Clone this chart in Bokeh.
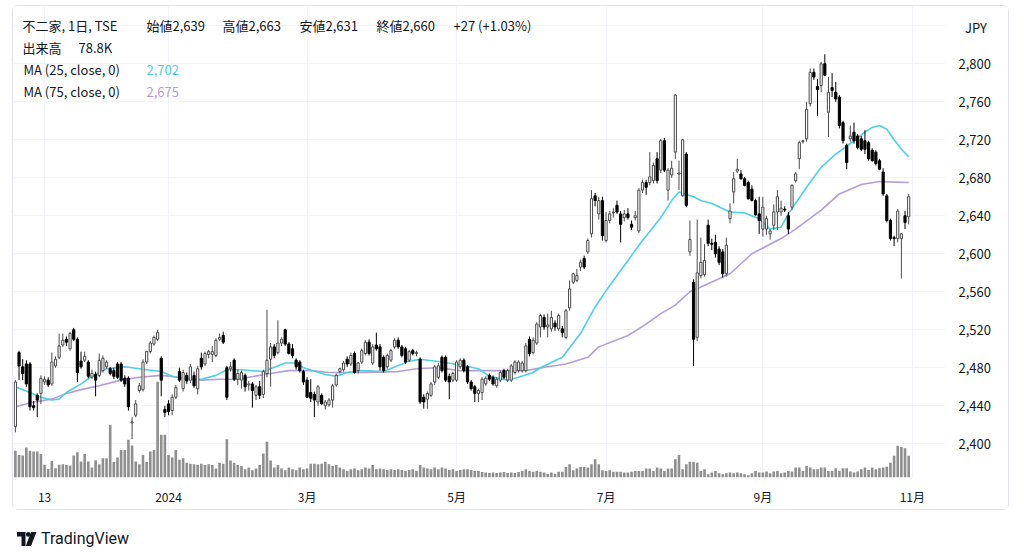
import numpy as np
from bokeh.plotting import figure
from bokeh.layouts import column, row
from bokeh.models import Range1d, FixedTicker, Label, ColumnDataSource, Spacer, Div
from bokeh.embed import file_html
from bokeh.resources import INLINE

# ---------------- data ----------------
opens = [2418, 2496, 2481, 2484, 2484, 2440, 2451, 2453, 2465, 2467,
         2463, 2482, 2491, 2504, 2510, 2500, 2520, 2510, 2487, 2488,
         2486, 2470, 2473, 2472, 2477, 2481, 2479, 2477, 2484, 2484,
         2469, 2469, 2422, 2430, 2456, 2457, 2486, 2497, 2505, 2510,
         2490, 2436, 2442, 2435, 2449, 2476, 2458, 2472, 2467, 2472,
         2458, 2490, 2484, 2494, 2494, 2493, 2510, 2514, 2480, 2479,
         2488, 2468, 2467, 2472, 2462, 2463, 2451, 2460, 2452, 2474,
         2489, 2502, 2496, 2506, 2520, 2505, 2500, 2488, 2486, 2476,
         2467, 2454, 2452, 2444, 2451, 2440, 2441, 2446, 2462, 2476,
         2478, 2489, 2484, 2495, 2477, 2486, 2495, 2507, 2485, 2504,
         2502, 2491, 2481, 2488, 2502, 2509, 2502, 2500, 2488, 2498,
         2495, 2489, 2449, 2447, 2451, 2465, 2470, 2491, 2491, 2471,
         2467, 2467, 2481, 2488, 2481, 2465, 2460, 2453, 2454, 2463,
         2472, 2470, 2461, 2467, 2477, 2467, 2467, 2475, 2477, 2477,
         2477, 2510, 2496, 2506, 2523, 2533, 2523, 2521, 2527, 2521,
         2521, 2512, 2543, 2570, 2572, 2586, 2595, 2602, 2621, 2661,
         2642, 2656, 2614, 2635, 2643, 2651, 2642, 2638, 2642, 2631,
         2638, 2624, 2667, 2675, 2675, 2677, 2700, 2688, 2719, 2667,
         2683, 2707, 2684, 2661, 2705, 2602, 2570, 2512, 2577, 2578,
         2630, 2611, 2612, 2605, 2602, 2579, 2637, 2665, 2687, 2684,
         2679, 2675, 2668, 2656, 2642, 2626, 2626, 2621, 2630, 2644,
         2644, 2647, 2640, 2649, 2677, 2700, 2718, 2721, 2758, 2791,
         2776, 2777, 2800, 2749, 2775, 2770, 2765, 2738, 2714, 2721,
         2728, 2724, 2721, 2719, 2717, 2709, 2707, 2698, 2686, 2661,
         2635, 2617, 2616, 2616, 2640, 2639]
highs = [2467, 2498, 2489, 2488, 2486, 2445, 2453, 2472, 2471, 2470,
         2496, 2492, 2516, 2516, 2513, 2518, 2522, 2512, 2497, 2497,
         2488, 2478, 2476, 2495, 2493, 2488, 2481, 2480, 2486, 2486,
         2472, 2471, 2428, 2446, 2464, 2489, 2498, 2508, 2514, 2520,
         2492, 2440, 2446, 2452, 2462, 2480, 2478, 2475, 2484, 2476,
         2482, 2496, 2497, 2499, 2503, 2511, 2516, 2518, 2482, 2486,
         2490, 2478, 2477, 2474, 2466, 2465, 2462, 2466, 2478, 2541,
         2506, 2505, 2530, 2512, 2521, 2507, 2505, 2490, 2488, 2478,
         2470, 2468, 2455, 2462, 2453, 2446, 2448, 2463, 2474, 2480,
         2487, 2492, 2496, 2497, 2486, 2500, 2509, 2510, 2505, 2517,
         2505, 2493, 2495, 2500, 2511, 2512, 2504, 2502, 2499, 2500,
         2498, 2491, 2452, 2455, 2465, 2483, 2485, 2493, 2493, 2474,
         2476, 2488, 2490, 2490, 2483, 2467, 2462, 2458, 2470, 2471,
         2474, 2472, 2470, 2477, 2479, 2479, 2484, 2488, 2488, 2487,
         2506, 2513, 2512, 2528, 2537, 2536, 2537, 2540, 2530, 2537,
         2524, 2542, 2572, 2580, 2584, 2594, 2598, 2616, 2667, 2664,
         2660, 2660, 2644, 2645, 2648, 2656, 2645, 2646, 2648, 2635,
         2645, 2669, 2678, 2678, 2707, 2696, 2707, 2721, 2722, 2690,
         2698, 2768, 2698, 2721, 2707, 2635, 2573, 2636, 2617, 2610,
         2636, 2616, 2620, 2608, 2605, 2617, 2653, 2686, 2700, 2688,
         2681, 2677, 2672, 2658, 2660, 2660, 2640, 2626, 2652, 2667,
         2656, 2650, 2644, 2673, 2686, 2719, 2720, 2760, 2795, 2795,
         2784, 2802, 2810, 2786, 2790, 2781, 2767, 2740, 2716, 2735,
         2738, 2726, 2724, 2730, 2719, 2711, 2709, 2700, 2690, 2663,
         2637, 2619, 2647, 2622, 2645, 2663]
lows = [2412, 2467, 2467, 2460, 2435, 2435, 2428, 2442, 2462, 2460,
        2461, 2480, 2489, 2502, 2503, 2498, 2508, 2465, 2479, 2486,
        2469, 2468, 2450, 2470, 2475, 2479, 2472, 2468, 2468, 2465,
        2460, 2435, 2405, 2428, 2454, 2455, 2484, 2495, 2503, 2508,
        2450, 2428, 2430, 2430, 2447, 2465, 2455, 2463, 2464, 2459,
        2452, 2478, 2482, 2490, 2486, 2491, 2508, 2505, 2446, 2476,
        2466, 2462, 2458, 2455, 2456, 2438, 2446, 2447, 2448, 2470,
        2460, 2490, 2494, 2503, 2503, 2494, 2490, 2478, 2475, 2462,
        2448, 2444, 2428, 2440, 2441, 2436, 2439, 2438, 2460, 2474,
        2476, 2481, 2482, 2474, 2474, 2484, 2493, 2493, 2483, 2498,
        2477, 2475, 2479, 2486, 2500, 2500, 2491, 2484, 2486, 2493,
        2492, 2442, 2437, 2437, 2449, 2462, 2468, 2475, 2465, 2447,
        2465, 2465, 2479, 2475, 2463, 2456, 2444, 2444, 2446, 2461,
        2466, 2461, 2459, 2465, 2468, 2465, 2465, 2473, 2475, 2475,
        2475, 2492, 2494, 2504, 2512, 2520, 2512, 2518, 2519, 2519,
        2512, 2510, 2540, 2568, 2570, 2582, 2584, 2600, 2617, 2650,
        2636, 2614, 2612, 2632, 2638, 2642, 2612, 2634, 2636, 2625,
        2635, 2622, 2664, 2662, 2672, 2674, 2674, 2685, 2686, 2656,
        2680, 2700, 2667, 2660, 2649, 2598, 2482, 2508, 2574, 2576,
        2608, 2604, 2596, 2588, 2575, 2576, 2632, 2653, 2685, 2678,
        2671, 2657, 2655, 2640, 2621, 2618, 2620, 2615, 2625, 2625,
        2640, 2644, 2621, 2646, 2675, 2689, 2716, 2718, 2755, 2783,
        2745, 2770, 2787, 2723, 2765, 2760, 2732, 2716, 2689, 2718,
        2716, 2710, 2708, 2705, 2698, 2697, 2693, 2688, 2661, 2633,
        2614, 2608, 2612, 2574, 2626, 2631]
closes = [2465, 2482, 2474, 2463, 2439, 2438, 2446, 2469, 2468, 2462,
          2486, 2489, 2503, 2509, 2507, 2516, 2510, 2475, 2481, 2492,
          2471, 2474, 2467, 2488, 2490, 2486, 2474, 2471, 2470, 2467,
          2463, 2439, 2423, 2442, 2461, 2486, 2497, 2506, 2512, 2517,
          2467, 2433, 2434, 2449, 2459, 2467, 2475, 2466, 2481, 2461,
          2479, 2481, 2495, 2497, 2497, 2509, 2512, 2507, 2449, 2481,
          2468, 2474, 2475, 2460, 2463, 2456, 2460, 2451, 2476, 2488,
          2502, 2493, 2506, 2510, 2505, 2495, 2493, 2481, 2477, 2465,
          2449, 2448, 2446, 2460, 2442, 2444, 2446, 2461, 2472, 2479,
          2485, 2484, 2493, 2475, 2485, 2498, 2507, 2495, 2502, 2500,
          2481, 2477, 2493, 2498, 2509, 2502, 2493, 2486, 2497, 2495,
          2496, 2444, 2444, 2453, 2463, 2481, 2482, 2477, 2467, 2465,
          2474, 2486, 2488, 2477, 2465, 2458, 2453, 2456, 2468, 2469,
          2468, 2463, 2468, 2475, 2470, 2477, 2482, 2486, 2486, 2485,
          2503, 2495, 2509, 2526, 2535, 2523, 2525, 2533, 2523, 2535,
          2517, 2540, 2563, 2579, 2577, 2591, 2586, 2614, 2658, 2656,
          2656, 2619, 2635, 2642, 2644, 2644, 2631, 2642, 2638, 2628,
          2640, 2667, 2675, 2670, 2681, 2693, 2677, 2719, 2688, 2688,
          2690, 2767, 2685, 2720, 2651, 2615, 2510, 2580, 2591, 2593,
          2611, 2610, 2600, 2591, 2579, 2609, 2645, 2679, 2689, 2679,
          2672, 2658, 2656, 2641, 2635, 2649, 2637, 2624, 2644, 2660,
          2648, 2646, 2626, 2672, 2684, 2717, 2719, 2752, 2791, 2786,
          2773, 2800, 2788, 2770, 2772, 2763, 2735, 2719, 2696, 2724,
          2719, 2712, 2710, 2710, 2700, 2698, 2695, 2689, 2663, 2635,
          2616, 2616, 2645, 2621, 2633, 2660]
volumes_k = [97, 82, 80, 109, 97, 94, 94, 85, 46, 31,
             60, 34, 46, 48, 46, 44, 80, 92, 58, 85,
             58, 36, 63, 48, 70, 70, 191, 56, 73, 100,
             100, 137, 116, 58, 48, 82, 56, 94, 100, 348,
             155, 155, 82, 73, 100, 64, 70, 54, 50, 48,
             45, 50, 45, 48, 45, 33, 54, 50, 139, 62,
             54, 45, 42, 30, 36, 26, 33, 45, 87, 130,
             62, 36, 45, 33, 26, 36, 30, 26, 36, 30,
             33, 50, 50, 48, 50, 57, 48, 42, 45, 36,
             30, 24, 30, 33, 26, 30, 36, 33, 45, 30,
             33, 30, 27, 30, 27, 30, 27, 24, 27, 30,
             24, 45, 36, 33, 30, 36, 30, 36, 33, 27,
             30, 24, 27, 30, 30, 27, 24, 24, 20, 18,
             16, 18, 16, 18, 20, 16, 18, 16, 20, 24,
             30, 24, 21, 24, 21, 18, 14, 18, 14, 21,
             21, 38, 48, 26, 33, 38, 38, 36, 48, 66,
             48, 26, 24, 26, 21, 21, 21, 18, 18, 21,
             24, 24, 24, 33, 33, 24, 36, 33, 24, 33,
             33, 66, 82, 30, 48, 57, 57, 54, 24, 30,
             12, 18, 24, 15, 12, 15, 18, 15, 18, 15,
             12, 8, 15, 24, 18, 18, 22, 15, 22, 24,
             15, 18, 24, 22, 36, 36, 24, 42, 36, 30,
             30, 36, 36, 24, 24, 34, 24, 34, 34, 22,
             18, 22, 30, 36, 27, 36, 30, 34, 36, 39,
             54, 79, 115, 111, 106, 79]

ma25_idx = [0, 4, 7, 10, 12, 14, 18, 21, 25, 30, 36, 40, 43, 47, 51, 55, 58, 62, 68, 74,
            77, 79, 85, 88, 91, 95, 101, 108, 111, 117, 122, 127, 130, 135, 138, 142, 144,
            150, 155, 159, 162, 168, 172, 177, 180, 182, 186, 188, 191, 196, 200, 204, 207,
            210, 212, 217, 221, 225, 230, 233, 235, 237, 239, 241, 243, 245]
ma25_val = [2460, 2454, 2449, 2446, 2447, 2454, 2463, 2471, 2479, 2481, 2478, 2476, 2471, 2468,
            2468, 2472, 2478, 2478, 2476, 2485, 2485, 2480, 2473, 2471, 2475, 2477, 2476, 2487,
            2489, 2486, 2483, 2479, 2471, 2467, 2470, 2475, 2480, 2491, 2516, 2544, 2561, 2593,
            2614, 2638, 2656, 2665, 2660, 2656, 2653, 2644, 2643, 2637, 2626, 2628, 2642, 2670,
            2691, 2705, 2719, 2728, 2733, 2735, 2731, 2720, 2710, 2702]
ma75_idx = [0, 5, 10, 14, 18, 23, 29, 34, 40, 45, 51, 56, 62, 64, 70, 75, 81, 86, 96, 105,
            110, 116, 122, 131, 140, 146, 151, 157, 160, 168, 173, 177, 181, 185, 188, 196,
            202, 210, 214, 221, 226, 232, 237, 245]
ma75_val = [2439, 2444, 2447, 2453, 2457, 2461, 2467, 2470, 2472, 2470, 2467, 2468, 2468, 2470,
            2474, 2477, 2477, 2475, 2475, 2476, 2479, 2480, 2477, 2477, 2477, 2481, 2484, 2491,
            2502, 2514, 2526, 2537, 2546, 2560, 2565, 2579, 2600, 2616, 2626, 2646, 2663, 2673,
            2676, 2675]

time_tick_idx = [8, 42, 80, 121, 162, 205, 246]
time_tick_labels = ["13", "2024", "3月", "5月", "7月", "9月", "11月"]
price_ticks = [2400, 2440, 2480, 2520, 2560, 2600, 2640, 2680, 2720, 2760, 2800]
grid_price_ticks = [2400, 2440, 2480, 2520, 2560, 2600, 2640, 2680, 2720, 2760, 2800, 2840]
currency_level = 2838
currency = "JPY"

header_parts = ["不二家, 1日, TSE", "始値2,639", "高値2,663", "安値2,631", "終値2,660", "+27 (+1.03%)"]
volume_text = ["出来高", "78.8K"]
ma_labels = ["MA (25, close, 0)", "MA (75, close, 0)"]
ma_last = ["2,702", "2,675"]

# ---------------- layout constants (page px) ----------------
W, H = 997, 505          # figure canvas, sits at page (13, 6) inside a 1px border
X0, X1 = -0.52, 255.1
Y0, Y1 = 2364.5, 2860.3
PXX = 932 / (X1 - X0)
PXY = 471 / (Y1 - Y0)
VOL_MAX = 1710

TXT = "#131722"
CYAN = "#4dd0e1"
PURPLE = "#b39ddb"
GRID = "#f0f3fa"
FONT = "Noto Sans CJK JP"


def X(px):
    return X0 + (px - 13) / PXX


def Y(py):
    return Y1 - (py - 6) / PXY


p = figure(width=W, height=H, x_range=Range1d(X0, X1), y_range=Range1d(Y0, Y1),
           y_axis_location="right", toolbar_location=None, output_backend="svg",
           min_border_left=0, min_border_right=65, min_border_top=0, min_border_bottom=34,
           outline_line_color=None, background_fill_color="white", border_fill_color="white")
p.styles = {"border": "1px solid #e0e3eb", "border-radius": "6px"}
p.extra_y_ranges = {"vol": Range1d(0, VOL_MAX)}

# axes
xa = p.xaxis[0]
xa.ticker = FixedTicker(ticks=time_tick_idx)
xa.major_label_overrides = dict(zip(time_tick_idx, time_tick_labels))
xa.axis_line_color = None
xa.major_tick_line_color = None
xa.minor_tick_line_color = None
xa.major_tick_out = 0
xa.major_tick_in = 0
xa.major_label_standoff = 10
xa.major_label_text_font = FONT
xa.major_label_text_font_size = "12px"
xa.major_label_text_color = TXT

ya = p.yaxis[0]
ya.ticker = FixedTicker(ticks=price_ticks + [currency_level])
overrides = {t: f"{t:,}" for t in price_ticks}
overrides[currency_level] = "\u2002" + currency
ya.major_label_overrides = overrides
ya.axis_line_color = None
ya.major_tick_line_color = None
ya.minor_tick_line_color = None
ya.major_tick_out = 0
ya.major_tick_in = 0
ya.major_label_standoff = 13
ya.major_label_text_font = FONT
ya.major_label_text_font_size = "13px"
ya.major_label_text_color = TXT

p.xgrid.ticker = FixedTicker(ticks=time_tick_idx)
p.ygrid.ticker = FixedTicker(ticks=grid_price_ticks)
p.xgrid.grid_line_color = GRID
p.ygrid.grid_line_color = GRID

# data sources
n = len(opens)
idx = np.arange(n)
o = np.array(opens, dtype=float)
hh = np.array(highs, dtype=float)
ll = np.array(lows, dtype=float)
c = np.array(closes, dtype=float)
up = c >= o
src = ColumnDataSource(dict(
    x=idx, o=o, h=hh, l=ll, c=c,
    top=np.maximum(o, c), bot=np.minimum(o, c),
    fill=np.where(up, "#ffffff", "#000000"),
    line=np.where(up, "#4a4a4a", "#000000"),
    vol=np.array(volumes_k, dtype=float),
))

# volume
p.vbar(x="x", width=0.72, top="vol", bottom=0, source=src, y_range_name="vol",
       fill_color="#8f8f8f", line_color=None)

# moving averages
p.line(ma75_idx, ma75_val, line_color=PURPLE, line_width=1.6)
p.line(ma25_idx, ma25_val, line_color=CYAN, line_width=1.6)

# candles
p.segment(x0="x", y0="l", x1="x", y1="h", source=src, line_color="line", line_width=1)
p.vbar(x="x", width=0.6, top="top", bottom="bot", source=src,
       fill_color="fill", line_color="line", line_width=1)

# header legend
hx = [22, 146, 222, 299, 376, 453]
for t, px in zip(header_parts, hx):
    p.add_layout(Label(x=X(px), y=Y(25), text=t, text_font=FONT, text_font_size="13px",
                       text_color=TXT, text_baseline="middle", text_align="left"))
p.add_layout(Label(x=X(22), y=Y(46.5), text=volume_text[0], text_font=FONT, text_font_size="13px",
                   text_color=TXT, text_baseline="middle"))
p.add_layout(Label(x=X(78), y=Y(46.5), text=volume_text[1], text_font=FONT, text_font_size="13px",
                   text_color=TXT, text_baseline="middle"))
for k, (lab, val, col) in enumerate(zip(ma_labels, ma_last, [CYAN, PURPLE])):
    yy = 69 + 22 * k
    p.add_layout(Label(x=X(23), y=Y(yy), text=lab, text_font=FONT, text_font_size="13px",
                       text_color=TXT, text_baseline="middle"))
    p.add_layout(Label(x=X(146), y=Y(yy), text=val, text_font=FONT, text_font_size="13px",
                       text_color=col, text_baseline="middle"))

# TradingView logo line below the chart
logo_html = (
    '<div style="display:flex;align-items:center;height:20px;color:#131722;'
    'font-family:Roboto, sans-serif;font-size:16px;">'
    '<svg width="20" height="14" viewBox="0 0 20 14" style="margin-right:4px">'
    '<path d="M0 0H8.5V14H4.5V4.5H0Z" fill="#131722"/>'
    '<circle cx="11.2" cy="2.4" r="2.3" fill="#131722"/>'
    '<path d="M14 0H19.5L14 14H8.8Z" fill="#131722"/></svg>'
    '<span>TradingView</span></div>'
)
logo = Div(text=logo_html, width=200, height=20)

layout = column(
    Spacer(height=5),
    row(Spacer(width=12), p),
    Spacer(height=14),
    row(Spacer(width=12), logo),
)

open("out.html", "w").write(file_html(layout, INLINE))
